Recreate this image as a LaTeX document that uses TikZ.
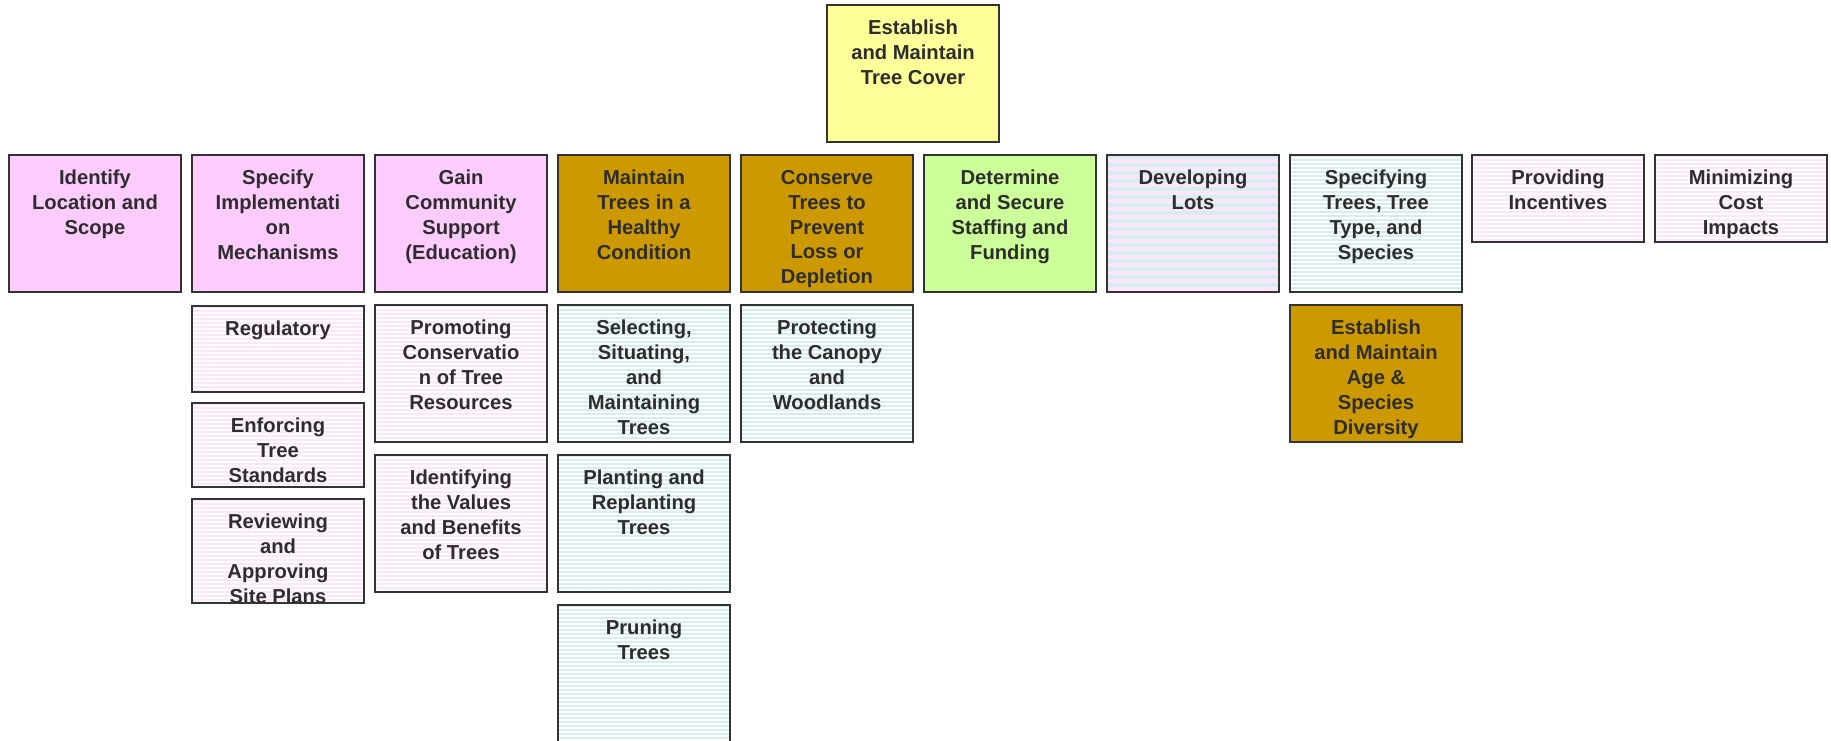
\documentclass[tikz,border=0pt]{standalone}
\usepackage{fontspec}
\setmainfont{Liberation Sans}
\definecolor{textc}{RGB}{45,45,45}
\definecolor{borderc}{RGB}{51,51,51}
\definecolor{yellowc}{RGB}{255,255,153}
\definecolor{pinkc}{RGB}{255,204,255}
\definecolor{goldc}{RGB}{204,153,0}
\definecolor{greenc}{RGB}{204,255,153}
\definecolor{pinkstr}{RGB}{255,230,255}
\definecolor{cyanstr}{RGB}{214,237,240}
\definecolor{devpink}{RGB}{255,230,252}
\definecolor{devcyan}{RGB}{214,238,238}
\newlength\pxu
\setlength\pxu{0.02cm}
\newcommand\boxtxt[2]{\parbox[t][#1\pxu][t]{172\pxu}{\centering\vspace*{15\pxu}#2}}
\tikzset{
  box/.style={anchor=north west, inner sep=0pt, outer sep=0pt,
    font=\fontsize{11.5}{14.2}\selectfont\bfseries, text=textc},
  stripes/.style n args={3}{path picture={
    \foreach \k in {0,...,#3}{
      \fill[#1] ([yshift={-\k*#2*0.02cm}]path picture bounding box.north west)
        rectangle ([yshift={-\k*#2*0.02cm-#2*0.01cm}]path picture bounding box.north east);
    }}},
  pinkbox/.style={fill=white, stripes={pinkstr}{4}{36}},
  cyanbox/.style={fill=white, stripes={cyanstr}{4}{36}},
  devbox/.style={fill=devpink, stripes={devcyan}{8}{18}},
  border/.style={draw=borderc, line width=1.6pt},
}
\begin{document}
\begin{tikzpicture}[x=0.02cm, y=-0.02cm]
\useasboundingbox (0,0) rectangle (1831,740);
% top
\node[box, fill=yellowc] (top) at (827,5) {\boxtxt{137}{Establish\\and Maintain\\Tree Cover}};
% row 1
\node[box, fill=pinkc] (r1) at (9,155) {\boxtxt{137}{Identify\\Location and\\Scope}};
\node[box, fill=pinkc] (r2) at (192,155) {\boxtxt{137}{Specify\\Implementati\\on\\Mechanisms}};
\node[box, fill=pinkc] (r3) at (375,155) {\boxtxt{137}{Gain\\Community\\Support\\(Education)}};
\node[box, fill=goldc] (r4) at (558,155) {\boxtxt{137}{Maintain\\Trees in a\\Healthy\\Condition}};
\node[box, fill=goldc] (r5) at (741,155) {\boxtxt{137}{Conserve\\Trees to\\Prevent\\Loss or\\Depletion}};
\node[box, fill=greenc] (r6) at (924,155) {\boxtxt{137}{Determine\\and Secure\\Staffing and\\Funding}};
\node[box, devbox] (r7) at (1107,155) {\boxtxt{137}{Developing\\Lots}};
\node[box, cyanbox] (r8) at (1290,155) {\boxtxt{137}{Specifying\\Trees, Tree\\Type, and\\Species}};
\node[box, pinkbox] (r9) at (1472,155) {\boxtxt{87}{Providing\\Incentives}};
\node[box, pinkbox] (r10) at (1655,155) {\boxtxt{87}{Minimizing\\Cost\\Impacts}};
% children
\node[box, pinkbox] (reg) at (192,306) {\boxtxt{86}{Regulatory}};
\node[box, pinkbox] (enf) at (192,403) {\boxtxt{84}{Enforcing\\Tree\\Standards}};
\node[box, pinkbox] (rev) at (192,499) {\boxtxt{104}{Reviewing\\and\\Approving\\Site Plans}};
\node[box, pinkbox] (pro) at (375,305) {\boxtxt{137}{Promoting\\Conservatio\\n of Tree\\Resources}};
\node[box, pinkbox] (ide) at (375,455) {\boxtxt{137}{Identifying\\the Values\\and Benefits\\of Trees}};
\node[box, cyanbox] (sel) at (558,305) {\boxtxt{137}{Selecting,\\Situating,\\and\\Maintaining\\Trees}};
\node[box, cyanbox] (pla) at (558,455) {\boxtxt{137}{Planting and\\Replanting\\Trees}};
\node[box, cyanbox] (pru) at (558,605) {\boxtxt{137}{Pruning\\Trees}};
\node[box, cyanbox] (prot) at (741,305) {\boxtxt{137}{Protecting\\the Canopy\\and\\Woodlands}};
\node[box, fill=goldc] (age) at (1290,305) {\boxtxt{137}{Establish\\and Maintain\\Age \&\\Species\\Diversity}};
% borders drawn over the texts
\foreach \n in {top,r1,r2,r3,r4,r5,r6,r7,r8,r9,r10,reg,enf,rev,pro,ide,sel,pla,pru,prot,age}
  \draw[border] (\n.north west) rectangle (\n.south east);
\end{tikzpicture}
\end{document}
